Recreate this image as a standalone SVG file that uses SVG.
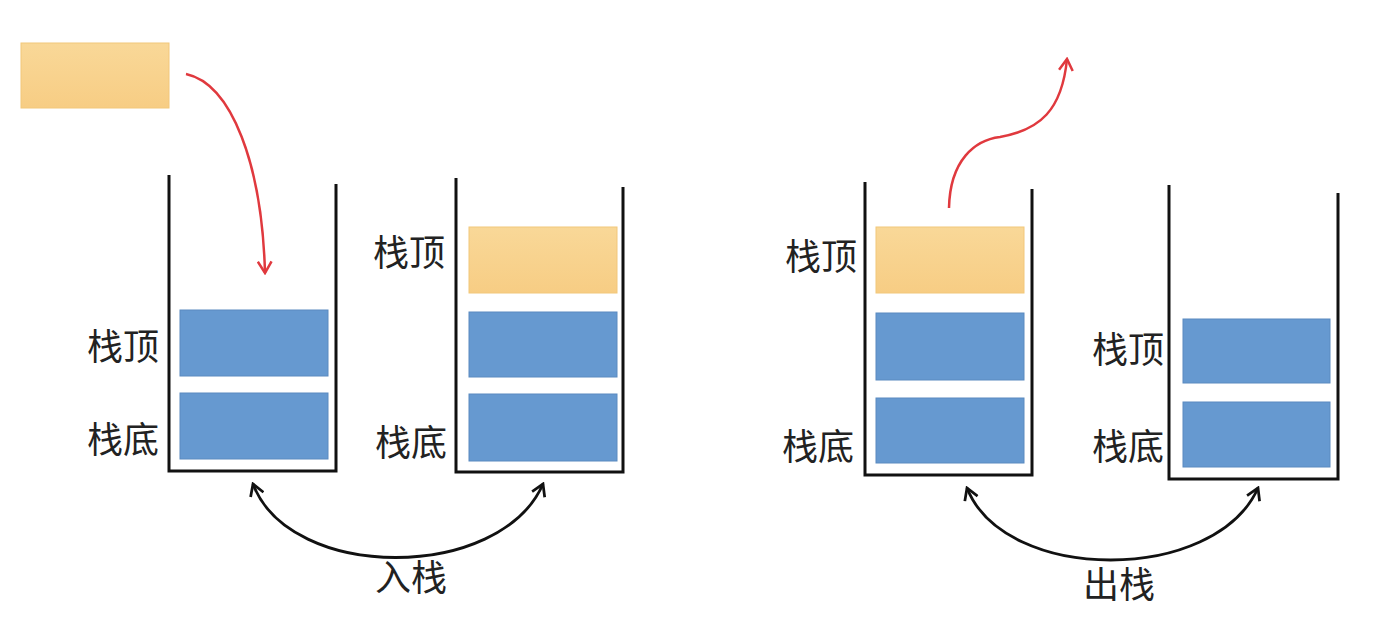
<svg xmlns="http://www.w3.org/2000/svg" width="1394" height="642" viewBox="0 0 1394 642">
<defs>
<linearGradient id="og" x1="0" y1="0" x2="0" y2="1">
<stop offset="0" stop-color="#F9D898"/>
<stop offset="1" stop-color="#F7CD84"/>
</linearGradient>
<marker id="ab" viewBox="0 0 14 14" refX="12" refY="7" markerWidth="16" markerHeight="16" markerUnits="userSpaceOnUse" orient="auto-start-reverse">
<path d="M2,1 L12,7 L2,13" fill="none" stroke="#111" stroke-width="2.4"/>
</marker>
<marker id="ar" viewBox="0 0 14 14" refX="12" refY="7" markerWidth="16" markerHeight="16" markerUnits="userSpaceOnUse" orient="auto">
<path d="M2,1 L12,7 L2,13" fill="none" stroke="#E0393E" stroke-width="2.2"/>
</marker>
</defs>
<style>
.wall{fill:none;stroke:#111;stroke-width:3}
.blue{fill:#6699D0;stroke:#5A8AC0;stroke-width:1}
.orange{fill:url(#og);stroke:#F2C77A;stroke-width:1}
.lbl{font-family:"Noto Sans CJK SC","Noto Sans CJK JP",sans-serif;font-size:36px;fill:#222}
.red{fill:none;stroke:#E0393E;stroke-width:2.5}
.blk{fill:none;stroke:#111;stroke-width:2.8}
</style>
<rect width="1394" height="642" fill="#fff"/>
<g id="incoming">
<rect class="orange" x="21" y="43" width="148" height="65"/>
</g>
<g id="stack1">
<path class="wall" d="M169,175 L169,471 L336,471 L336,184"/>
<rect class="blue" x="180" y="310" width="148" height="66"/>
<rect class="blue" x="180" y="393" width="148" height="66"/>
<text class="lbl" x="87" y="360">栈顶</text>
<text class="lbl" x="87" y="453">栈底</text>
</g>
<g id="stack2">
<path class="wall" d="M456,178 L456,472 L623,472 L623,187"/>
<rect class="orange" x="469" y="227" width="148" height="66"/>
<rect class="blue" x="469" y="312" width="148" height="65"/>
<rect class="blue" x="469" y="394" width="148" height="67"/>
<text class="lbl" x="373" y="266">栈顶</text>
<text class="lbl" x="375" y="456">栈底</text>
</g>
<g id="stack3">
<path class="wall" d="M865,182 L865,475 L1032,475 L1032,189"/>
<rect class="orange" x="876" y="227" width="148" height="66"/>
<rect class="blue" x="876" y="313" width="148" height="67"/>
<rect class="blue" x="876" y="398" width="148" height="65"/>
<text class="lbl" x="785" y="270">栈顶</text>
<text class="lbl" x="782" y="460">栈底</text>
</g>
<g id="stack4">
<path class="wall" d="M1169,185 L1169,479 L1338,479 L1338,193"/>
<rect class="blue" x="1183" y="319" width="147" height="64"/>
<rect class="blue" x="1183" y="402" width="147" height="65"/>
<text class="lbl" x="1092" y="363">栈顶</text>
<text class="lbl" x="1092" y="460">栈底</text>
</g>
<g id="connectors">
<path class="red" d="M186,74 C232,84 262,165 265,273" marker-end="url(#ar)"/>
<path class="red" d="M949,208 C950,160 975,140 1000,137 C1040,130 1062,110 1067,59" marker-end="url(#ar)"/>
<path class="blk" d="M253,484 C290,582 500,582 543,484" marker-start="url(#ab)" marker-end="url(#ab)"/>
<path class="blk" d="M967,488 C1005,584 1215,584 1258,488" marker-start="url(#ab)" marker-end="url(#ab)"/>
</g>
<g id="labels">
<text class="lbl" x="375" y="591">入栈</text>
<text class="lbl" x="1083" y="598">出栈</text>
</g>
</svg>
